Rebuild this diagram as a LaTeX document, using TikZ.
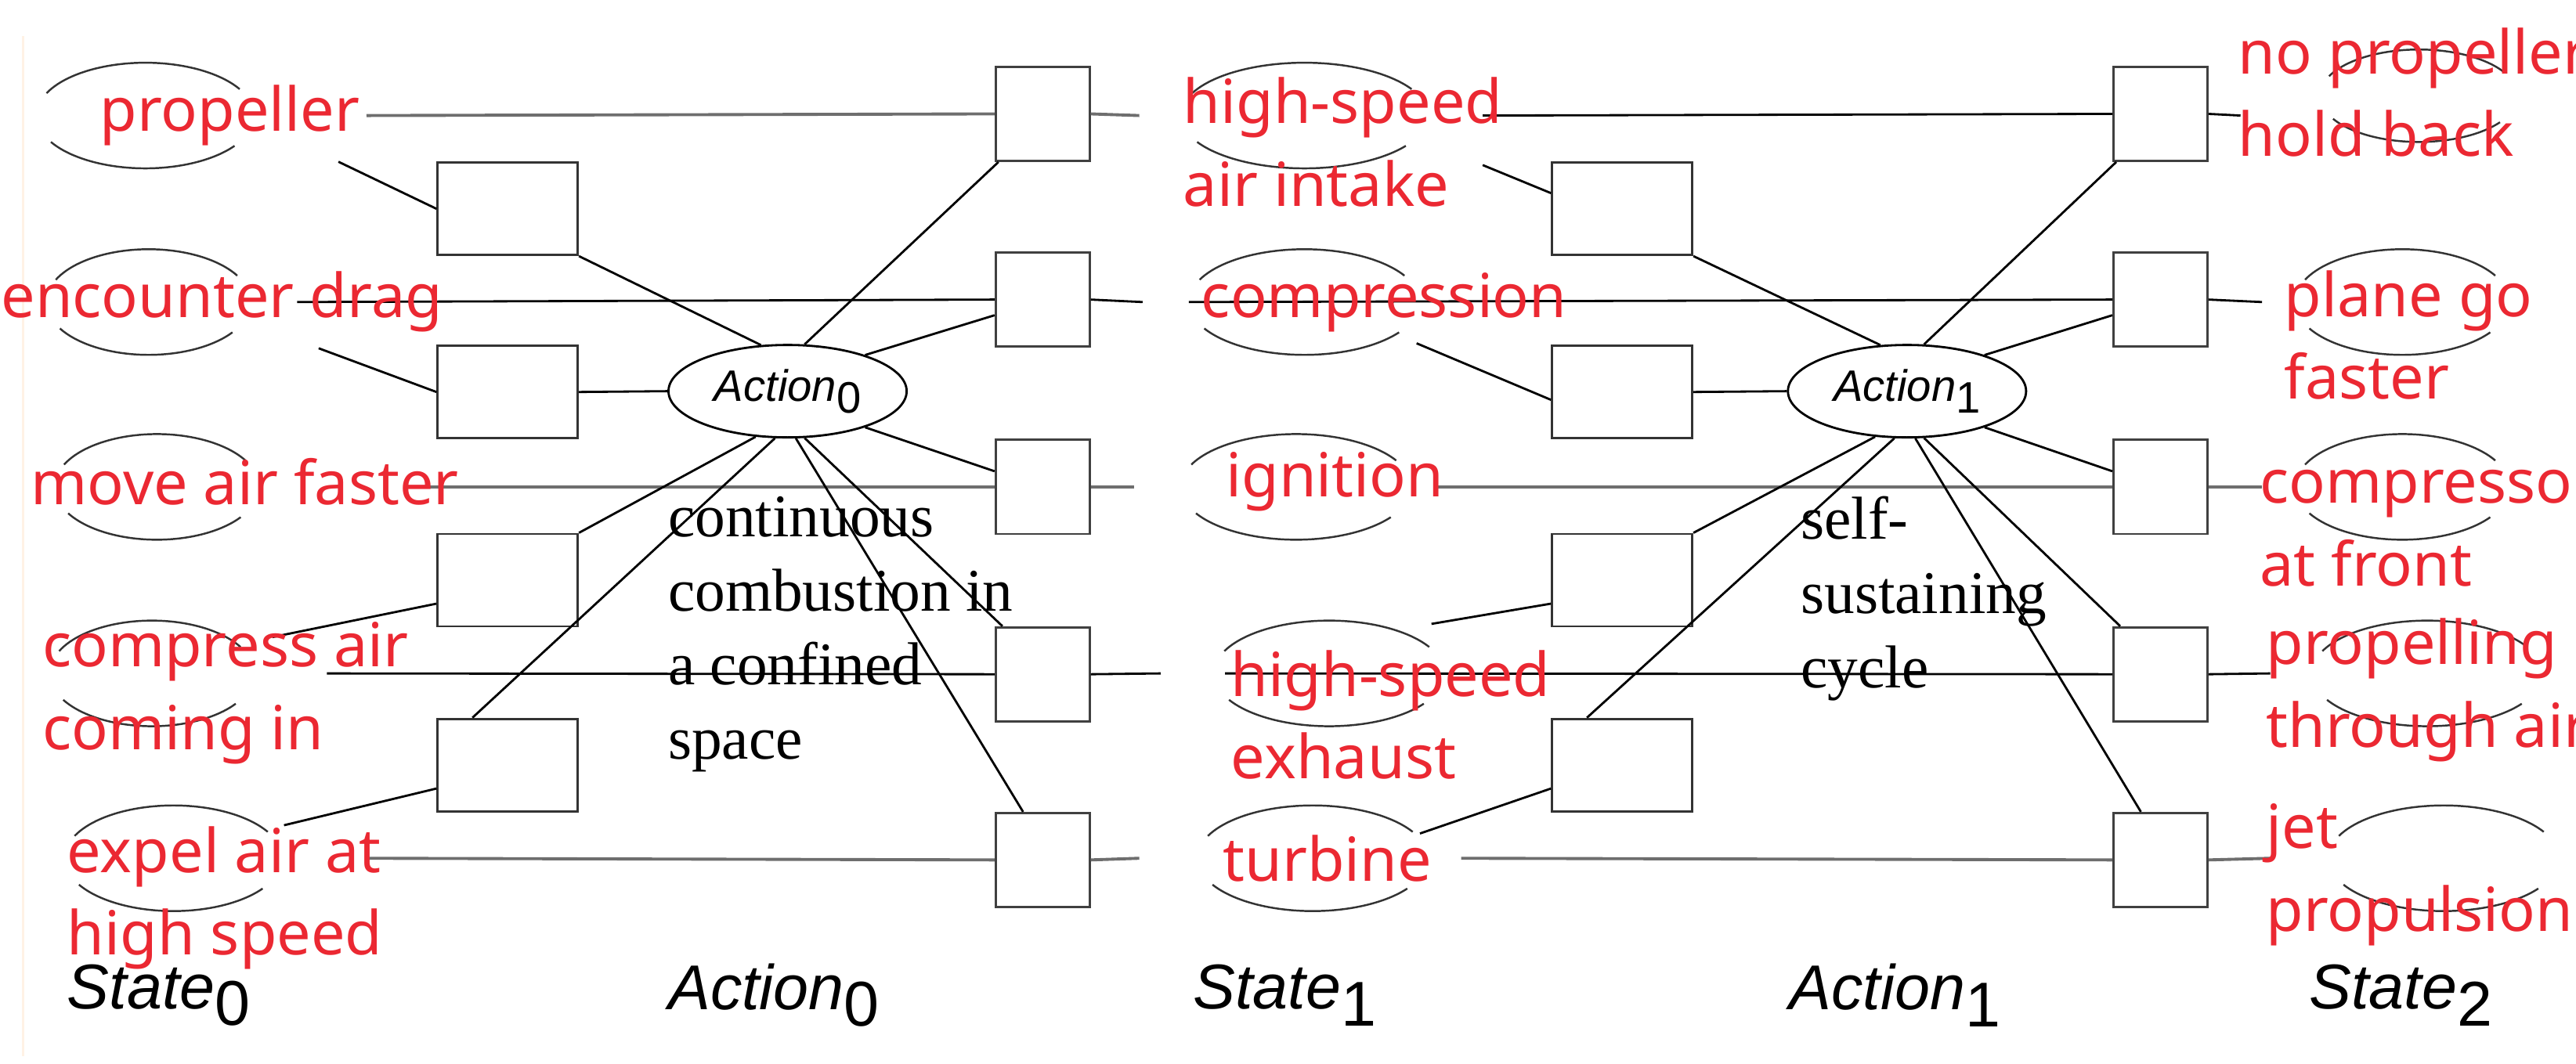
\documentclass[tikz,border=0pt]{standalone}
\usepackage{fontspec}
\setmainfont{Liberation Serif}
\newfontfamily\lab{Noto Sans}
\newfontfamily\hel{Liberation Sans}
\definecolor{lred}{RGB}{235,40,50}
\definecolor{lgray}{RGB}{110,110,110}
\newcommand\sbx[1]{\raisebox{-0.5ex}{\upshape #1}}
\begin{document}
\begin{tikzpicture}[x=0.02108cm,y=-0.02108cm,line width=0.8pt,
  lb/.style={draw=black!80,minimum width=1.79cm,minimum height=1.18cm,inner sep=0},
  rb/.style={draw=black!75,minimum width=1.2cm,minimum height=1.2cm,inner sep=0},
  act/.style={ellipse,draw,minimum width=3.04cm,minimum height=1.18cm,inner sep=0,font=\hel\itshape\fontsize{16}{20}\selectfont},
  red/.style={text=lred,font=\lab\fontsize{22}{30}\selectfont,anchor=west,align=left,inner sep=0},
  note/.style={font=\fontsize{22}{27}\selectfont,anchor=north west,align=left,inner sep=0},
  foot/.style={font=\hel\itshape\fontsize{23}{28}\selectfont,anchor=west,inner sep=0},
  gl/.style={draw=lgray,line width=1.1pt},
  halo/.style={draw=black!80,line width=0.7pt}]
\usetikzlibrary{shapes.geometric}
\useasboundingbox (0,0) rectangle (1560.2,644.2);
\draw[draw=orange!10,line width=1pt] (14,22) -- (14,640);
% halos
\newcommand\halo[4]{\draw[halo] (#1,#2) ++(150:#3 and #4) arc[start angle=150,end angle=35,x radius=#3,y radius=#4];
 \draw[halo] (#1,#2) ++(205:#3 and #4) arc[start angle=205,end angle=330,x radius=#3,y radius=#4];}
\halo{88}{70}{66}{32}\halo{90}{183}{62}{32}\halo{95}{295}{62}{32}\halo{92}{408}{62}{32}\halo{105}{520}{66}{32}
\halo{790}{70}{75}{32}\halo{790}{183}{70}{32}\halo{785}{295}{70}{32}\halo{805}{408}{70}{32}\halo{795}{520}{70}{32}
\halo{1465}{58}{60}{28}\halo{1455}{183}{65}{32}\halo{1455}{295}{65}{32}\halo{1470}{408}{70}{32}\halo{1480}{520}{70}{32}
% boxes
\foreach \n/\y in {1/126.5,2/237.5,3/351.5,4/463.5}{
  \node[lb] (aL\n) at (307.5,\y) {}; \node[lb] (bL\n) at (982.5,\y) {};}
\foreach \n/\y in {1/69,2/181.5,3/295,4/408.5,5/521}{
  \node[rb] (aR\n) at (631.5,\y) {}; \node[rb] (bR\n) at (1308.5,\y) {};}
\node[act] (A0) at (477,237) {Action\sbx{0}};
\node[act] (A1) at (1155,237) {Action\sbx{1}};
% free ends
\foreach \n/\xa/\xb/\xc/\xd/\y in {1/222/690/898/1357/70,2/180/692/720/1370/183,3/255/687/870/1370/295,4/198/703/742/1375/408,5/222/690/885/1375/520}{
  \coordinate (s0\n) at (\xa,\y); \coordinate (e0\n) at (\xb,\y);
  \coordinate (s1\n) at (\xc,\y); \coordinate (e1\n) at (\xd,\y);}
% row lines
\draw[gl] (s01) -- (aR1.west) (aR1.east) -- (e01);
\draw (s02) -- (aR2.west) (aR2.east) -- (e02);
\draw[gl] (s03) -- (aR3.west) (aR3.east) -- (e03);
\draw (s04) -- (aR4.west) (aR4.east) -- (e04);
\draw[gl] (s05) -- (aR5.west) (aR5.east) -- (e05);
\draw (s11) -- (bR1.west) (bR1.east) -- (e11);
\draw (s12) -- (bR2.west) (bR2.east) -- (e12);
\draw[gl] (s13) -- (bR3.west) (bR3.east) -- (e13);
\draw (s14) -- (bR4.west) (bR4.east) -- (e14);
\draw[gl] (s15) -- (bR5.west) (bR5.east) -- (e15);
% inputs to left boxes
\coordinate (p1) at (205,98); \coordinate (p2) at (193,211); \coordinate (p3) at (165,386); \coordinate (p4) at (172,500);
\coordinate (q1) at (898,100); \coordinate (q2) at (858,208); \coordinate (q3) at (867,378); \coordinate (q4) at (860,505);
\draw (p1) -- (aL1.west) (p2) -- (aL2.west) (p3) -- ([yshift=-0.3cm]aL3.west) (p4) -- ([yshift=-0.3cm]aL4.west);
\draw (q1) -- ([yshift=0.2cm]bL1.west) (q2) -- ([yshift=-0.1cm]bL2.west) (q3) -- ([yshift=-0.3cm]bL3.west) (q4) -- ([yshift=-0.3cm]bL4.west);
% left boxes to action
\foreach \A/\L in {A0/aL,A1/bL}{
\draw (\L1.south east) -- (\A.120);
\draw (\L2.east) -- (\A.west);
\draw (\L3.north east) -- (\A.235);
\draw ([xshift=-0.45cm]\L4.north) -- (\A.255);}
% action to right boxes
\foreach \A/\R in {A0/aR,A1/bR}{
\draw (\A.70) -- ([xshift=0.05cm]\R1.south west);
\draw (\A.25) -- ([yshift=-0.2cm]\R2.west);
\draw (\A.-25) -- ([yshift=0.2cm]\R3.west);
\draw (\A.-70) -- ([xshift=0.1cm]\R4.north west);
\draw (\A.-80) -- ([xshift=-0.25cm]\R5.north);}
% notes
\node[note] (n0) at (404,300) {continuous\\combustion in\\a confined\\space};
\node[note] (n1) at (1090,300) {self-\\sustaining\\cycle};
% red labels
\node[red] at (60,70) {propeller};
\node[red] at (0,183) {encounter drag};
\node[red] at (18,292) {move air faster};
\node[red] at (25,420) {compress air\\coming in};
\node[red] at (40,544) {expel air at\\high speed};
\node[red] at (716,86) {high-speed\\air intake};
\node[red] at (727,183) {compression};
\node[red] at (742,292) {ignition};
\node[red] at (745,433) {high-speed\\exhaust};
\node[red] at (740,520) {turbine};
\node[red] at (1355,56) {no propeller\\hold back};
\node[red] at (1383,203) {plane go\\faster};
\node[red] at (1368,320) {compressor\\at front};
\node[red] at (1372,418) {propelling\\through air};
\node[red] at (1372,530) {jet\\propulsion};
% footer
\node[foot] at (40,603) {State\sbx{0}};
\node[foot] at (404,603) {Action\sbx{0}};
\node[foot] at (722,603) {State\sbx{1}};
\node[foot] at (1083,603) {Action\sbx{1}};
\node[foot] at (1398,603) {State\sbx{2}};
\end{tikzpicture}
\end{document}
